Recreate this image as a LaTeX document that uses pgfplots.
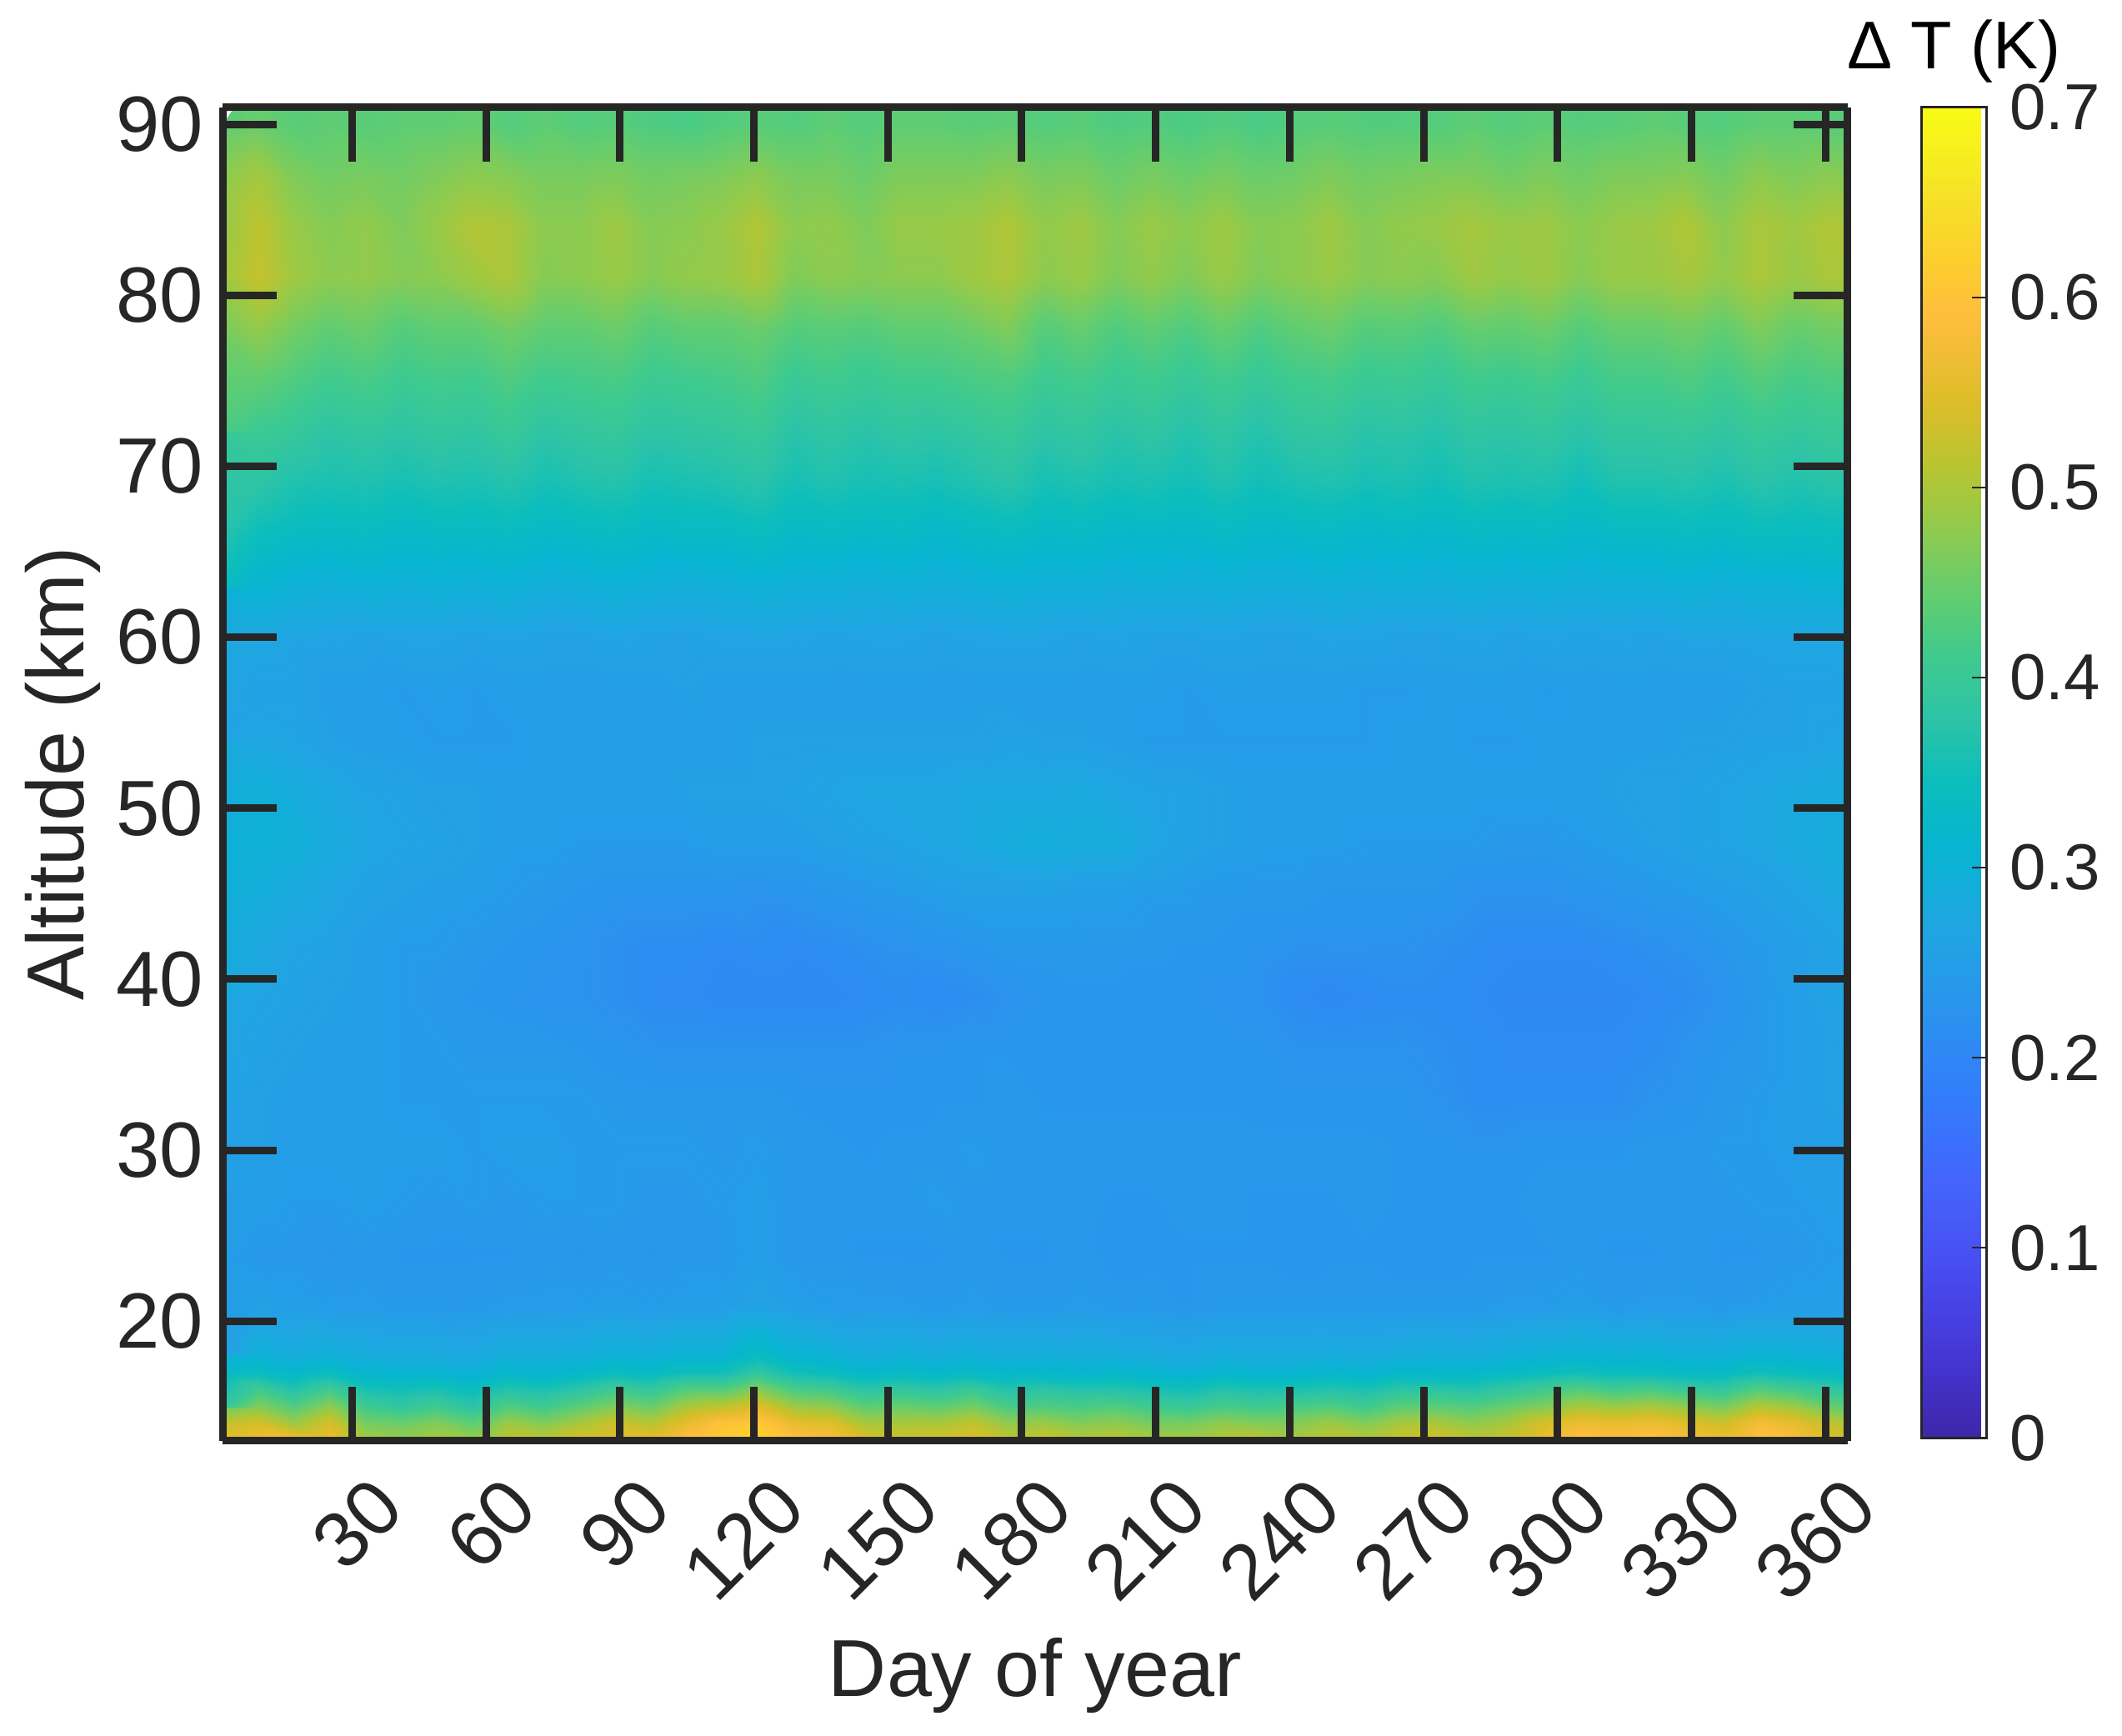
\documentclass[border=0pt]{standalone}
\usepackage{fontspec}
\setmainfont{Liberation Sans}
\usepackage{pgfplots}
\pgfplotsset{compat=1.18}
\definecolor{axgray}{HTML}{262626}
\pgfplotsset{
  /pgf/number format/assume math mode=true,
  colormap={parula}{
    rgb(1pt)=(0.2422,0.1504,0.6603) rgb(5pt)=(0.2706,0.2147,0.8364) rgb(9pt)=(0.2813,0.3006,0.9414)
    rgb(13pt)=(0.2699,0.3892,0.9906) rgb(17pt)=(0.1963,0.4847,0.9892) rgb(21pt)=(0.1687,0.5703,0.9359)
    rgb(25pt)=(0.1248,0.6459,0.8883) rgb(29pt)=(0.0297,0.7082,0.8163) rgb(32pt)=(0.0433,0.7411,0.7394)
    rgb(35pt)=(0.1717,0.7670,0.6554) rgb(38pt)=(0.2470,0.7918,0.5567) rgb(41pt)=(0.3909,0.8029,0.4354)
    rgb(44pt)=(0.5616,0.7942,0.3045) rgb(47pt)=(0.7242,0.7698,0.1910) rgb(50pt)=(0.8634,0.7406,0.1596)
    rgb(54pt)=(0.9956,0.7434,0.2371) rgb(57pt)=(0.9892,0.8135,0.1753) rgb(60pt)=(0.9604,0.8896,0.1537)
    rgb(62pt)=(0.9682,0.9408,0.1136) rgb(64pt)=(0.9769,0.9839,0.0805)
  },
}
\begin{document}
\begin{tikzpicture}
\path[use as bounding box] (0,0) rectangle (509.2pt,416.6pt);
\begin{axis}[
  at={(53.4pt,70.8pt)}, anchor=south west,
  scale only axis, width=390pt, height=320.1pt,
  view={0}{90},
  xmin=1, xmax=365, ymin=13, ymax=91,
  xtick={30,60,...,360}, ytick={20,30,...,90},
  tick align=inside, major tick length=13pt,
  tick style={line width=1.8pt,color=axgray},
  axis line style={line width=1.8pt,color=axgray},
  axis on top,
  every tick label/.append style={text=axgray,font=\fontsize{18.8pt}{20pt}\selectfont},
  x tick label style={rotate=45,anchor=east,xshift=0.7pt,yshift=-15pt},
  y tick label style={xshift=-1.1pt},
  xlabel={Day of year}, ylabel={Altitude (km)},
  label style={text=axgray,font=\fontsize{19.4pt}{22pt}\selectfont},
  xlabel style={at={(axis description cs:0.5,-0.176)},anchor=center},
  ylabel style={at={(axis description cs:-0.0985,0.5)},anchor=center},
  colormap name=parula,
  point meta min=0, point meta max=0.7,
  colorbar,
  colorbar style={
    xshift=-3.5pt, width=15.6pt, height=319.4pt,
    ytick={0,0.1,...,0.7},
    yticklabels={0,0.1,0.2,0.3,0.4,0.5,0.6,0.7},
    ytick pos=right, tick align=inside, major tick length=3.6pt,
    tick style={line width=0.4pt,color=axgray},
    axis line style={line width=0.6pt,color=axgray},
    every tick label/.append style={text=axgray,font=\fontsize{15.6pt}{18pt}\selectfont},
    y tick label style={xshift=2pt},
  },
]
% rows: 13..18 km in 1 km steps, then 21..93 km in 3 km steps; columns: day 1,9,...,369
\addplot3[surf,shader=interp,mesh/cols=47] table[row sep=crcr,z index=0,
  x expr={1+mod(\coordindex,47)*8},
  y expr={13+floor(\coordindex/47)+2*max(floor(\coordindex/47)-5,0)}]{
.56\\.57\\.58\\.57\\.50\\.49\\.50\\.49\\.52\\.52\\
.55\\.55\\.56\\.60\\.62\\.63\\.60\\.59\\.55\\.53\\
.54\\.55\\.52\\.53\\.51\\.52\\.50\\.50\\.51\\.52\\
.50\\.52\\.51\\.53\\.54\\.52\\.53\\.56\\.60\\.59\\
.60\\.58\\.57\\.60\\.59\\.55\\.52\\
.52\\.54\\.49\\.54\\.46\\.45\\.47\\.44\\.49\\.47\\
.50\\.53\\.51\\.56\\.60\\.61\\.56\\.55\\.50\\.50\\
.50\\.52\\.48\\.49\\.47\\.48\\.46\\.46\\.48\\.47\\
.47\\.49\\.47\\.50\\.50\\.48\\.50\\.54\\.57\\.56\\
.57\\.55\\.53\\.58\\.56\\.52\\.49\\
.45\\.47\\.43\\.48\\.41\\.39\\.41\\.38\\.43\\.41\\
.44\\.47\\.45\\.50\\.52\\.55\\.49\\.48\\.44\\.45\\
.44\\.46\\.42\\.43\\.42\\.43\\.41\\.40\\.42\\.41\\
.42\\.43\\.41\\.44\\.44\\.43\\.45\\.47\\.50\\.49\\
.50\\.48\\.46\\.51\\.49\\.45\\.43\\
.39\\.41\\.37\\.41\\.36\\.35\\.36\\.34\\.37\\.36\\
.38\\.41\\.39\\.43\\.43\\.47\\.42\\.41\\.38\\.39\\
.38\\.40\\.37\\.38\\.37\\.37\\.36\\.35\\.37\\.36\\
.36\\.37\\.36\\.38\\.38\\.37\\.39\\.41\\.43\\.41\\
.42\\.40\\.39\\.43\\.41\\.39\\.37\\
.33\\.34\\.32\\.34\\.315\\.31\\.31\\.30\\.32\\.31\\
.32\\.34\\.33\\.35\\.35\\.39\\.35\\.34\\.32\\.33\\
.32\\.33\\.32\\.32\\.315\\.32\\.31\\.30\\.315\\.31\\
.31\\.32\\.31\\.32\\.32\\.32\\.33\\.34\\.35\\.34\\
.34\\.33\\.33\\.35\\.34\\.33\\.32\\
.295\\.30\\.285\\.295\\.285\\.28\\.28\\.275\\.29\\.285\\
.29\\.30\\.295\\.305\\.305\\.335\\.31\\.30\\.285\\.295\\
.285\\.295\\.285\\.29\\.285\\.285\\.28\\.275\\.285\\.28\\
.28\\.285\\.28\\.285\\.29\\.285\\.295\\.30\\.305\\.30\\
.305\\.295\\.295\\.305\\.30\\.295\\.285\\
.255\\.255\\.25\\.245\\.245\\.24\\.24\\.24\\.245\\.245\\
.245\\.25\\.245\\.25\\.25\\.26\\.25\\.245\\.245\\.245\\
.24\\.245\\.24\\.24\\.245\\.24\\.24\\.235\\.24\\.24\\
.24\\.24\\.24\\.24\\.24\\.24\\.245\\.245\\.25\\.24\\
.245\\.245\\.24\\.245\\.25\\.25\\.255\\
.245\\.24\\.24\\.235\\.24\\.235\\.235\\.235\\.235\\.24\\
.235\\.24\\.235\\.24\\.24\\.25\\.24\\.24\\.235\\.235\\
.235\\.24\\.235\\.235\\.24\\.23\\.235\\.235\\.235\\.235\\
.23\\.235\\.235\\.23\\.23\\.235\\.235\\.235\\.24\\.235\\
.235\\.24\\.235\\.235\\.24\\.245\\.245\\
.25\\.25\\.245\\.245\\.25\\.245\\.24\\.245\\.24\\.245\\
.245\\.245\\.24\\.24\\.245\\.25\\.24\\.24\\.24\\.24\\
.245\\.24\\.24\\.24\\.24\\.235\\.235\\.24\\.24\\.235\\
.235\\.235\\.24\\.235\\.235\\.235\\.235\\.24\\.24\\.24\\
.24\\.24\\.24\\.245\\.245\\.25\\.25\\
.255\\.255\\.25\\.25\\.25\\.25\\.25\\.245\\.25\\.25\\
.245\\.245\\.245\\.245\\.24\\.245\\.24\\.24\\.235\\.24\\
.24\\.245\\.24\\.24\\.24\\.24\\.24\\.24\\.24\\.24\\
.24\\.24\\.24\\.235\\.23\\.23\\.23\\.235\\.235\\.235\\
.24\\.24\\.245\\.245\\.25\\.25\\.255\\
.255\\.255\\.25\\.25\\.25\\.245\\.245\\.245\\.245\\.245\\
.245\\.24\\.24\\.24\\.24\\.24\\.235\\.23\\.23\\.23\\
.235\\.235\\.24\\.235\\.235\\.235\\.235\\.235\\.235\\.23\\
.23\\.23\\.23\\.23\\.225\\.215\\.215\\.215\\.215\\.215\\
.225\\.23\\.24\\.245\\.25\\.255\\.26\\
.265\\.26\\.255\\.25\\.25\\.245\\.245\\.24\\.24\\.24\\
.235\\.23\\.225\\.225\\.225\\.225\\.225\\.225\\.225\\.23\\
.23\\.235\\.235\\.235\\.235\\.235\\.235\\.235\\.235\\.23\\
.225\\.225\\.225\\.225\\.22\\.215\\.21\\.21\\.21\\.21\\
.215\\.225\\.235\\.24\\.25\\.255\\.26\\
.27\\.265\\.26\\.255\\.25\\.245\\.24\\.235\\.23\\.225\\
.225\\.22\\.21\\.21\\.205\\.205\\.205\\.205\\.21\\.215\\
.21\\.215\\.225\\.23\\.235\\.235\\.23\\.23\\.225\\.225\\
.21\\.205\\.21\\.215\\.215\\.21\\.205\\.205\\.205\\.205\\
.21\\.215\\.225\\.24\\.25\\.26\\.27\\
.28\\.275\\.265\\.26\\.25\\.245\\.245\\.24\\.235\\.23\\
.225\\.22\\.215\\.215\\.21\\.215\\.21\\.215\\.22\\.225\\
.23\\.235\\.24\\.24\\.24\\.24\\.24\\.235\\.235\\.23\\
.225\\.225\\.225\\.225\\.22\\.215\\.21\\.21\\.21\\.215\\
.22\\.225\\.235\\.245\\.25\\.26\\.275\\
.295\\.29\\.28\\.27\\.26\\.255\\.25\\.25\\.245\\.24\\
.235\\.23\\.23\\.23\\.23\\.225\\.23\\.235\\.24\\.245\\
.25\\.255\\.255\\.255\\.25\\.25\\.245\\.245\\.24\\.24\\
.24\\.235\\.235\\.235\\.235\\.225\\.225\\.225\\.23\\.235\\
.24\\.245\\.25\\.255\\.265\\.275\\.285\\
.30\\.30\\.295\\.28\\.27\\.265\\.26\\.255\\.25\\.25\\
.245\\.245\\.245\\.245\\.25\\.25\\.25\\.255\\.26\\.265\\
.27\\.275\\.285\\.29\\.285\\.285\\.27\\.26\\.255\\.25\\
.25\\.25\\.245\\.245\\.245\\.245\\.24\\.24\\.245\\.25\\
.255\\.26\\.265\\.27\\.28\\.285\\.295\\
.295\\.295\\.285\\.275\\.265\\.26\\.255\\.255\\.25\\.25\\
.25\\.25\\.25\\.255\\.255\\.255\\.26\\.265\\.27\\.27\\
.27\\.275\\.275\\.275\\.28\\.27\\.265\\.26\\.255\\.25\\
.25\\.25\\.25\\.25\\.25\\.25\\.25\\.25\\.25\\.255\\
.26\\.26\\.265\\.27\\.275\\.28\\.29\\
.275\\.27\\.265\\.255\\.25\\.25\\.245\\.245\\.245\\.25\\
.25\\.25\\.25\\.25\\.25\\.255\\.255\\.255\\.255\\.255\\
.255\\.255\\.26\\.255\\.255\\.25\\.245\\.245\\.245\\.245\\
.245\\.245\\.245\\.25\\.25\\.245\\.245\\.25\\.25\\.25\\
.25\\.255\\.255\\.26\\.26\\.265\\.27\\
.265\\.26\\.26\\.25\\.25\\.245\\.25\\.245\\.25\\.25\\
.25\\.25\\.25\\.255\\.25\\.25\\.25\\.25\\.25\\.25\\
.25\\.25\\.25\\.25\\.25\\.25\\.25\\.245\\.25\\.25\\
.25\\.25\\.245\\.245\\.25\\.25\\.25\\.245\\.25\\.25\\
.25\\.25\\.25\\.255\\.26\\.26\\.265\\
.275\\.27\\.265\\.265\\.26\\.265\\.265\\.26\\.265\\.26\\
.26\\.265\\.26\\.26\\.265\\.265\\.265\\.26\\.265\\.265\\
.26\\.265\\.265\\.265\\.26\\.265\\.26\\.26\\.265\\.26\\
.26\\.265\\.265\\.26\\.26\\.265\\.26\\.265\\.26\\.265\\
.26\\.265\\.265\\.27\\.27\\.27\\.275\\
.305\\.31\\.30\\.295\\.30\\.295\\.30\\.295\\.30\\.29\\
.295\\.30\\.295\\.29\\.295\\.30\\.295\\.295\\.29\\.295\\
.29\\.295\\.30\\.295\\.295\\.29\\.295\\.29\\.295\\.29\\
.29\\.295\\.29\\.295\\.29\\.295\\.29\\.295\\.29\\.295\\
.295\\.30\\.295\\.30\\.30\\.305\\.30\\
.34\\.345\\.335\\.33\\.335\\.325\\.33\\.33\\.335\\.325\\
.33\\.335\\.325\\.33\\.33\\.34\\.325\\.33\\.325\\.33\\
.32\\.33\\.335\\.325\\.33\\.32\\.325\\.32\\.33\\.32\\
.325\\.33\\.32\\.325\\.32\\.33\\.325\\.33\\.32\\.33\\
.33\\.335\\.33\\.34\\.335\\.34\\.335\\
.37\\.38\\.365\\.36\\.365\\.355\\.365\\.36\\.37\\.355\\
.365\\.37\\.355\\.36\\.365\\.375\\.355\\.365\\.355\\.36\\
.355\\.365\\.375\\.355\\.365\\.355\\.36\\.35\\.365\\.35\\
.36\\.365\\.355\\.36\\.35\\.365\\.36\\.365\\.35\\.365\\
.365\\.37\\.36\\.375\\.365\\.375\\.365\\
.395\\.405\\.395\\.38\\.39\\.38\\.39\\.385\\.40\\.38\\
.39\\.395\\.38\\.385\\.39\\.40\\.375\\.385\\.375\\.385\\
.38\\.39\\.40\\.38\\.39\\.375\\.385\\.37\\.385\\.37\\
.385\\.39\\.375\\.38\\.37\\.385\\.38\\.39\\.375\\.39\\
.39\\.395\\.385\\.40\\.39\\.40\\.39\\
.42\\.44\\.425\\.41\\.42\\.405\\.415\\.41\\.425\\.41\\
.415\\.42\\.405\\.41\\.415\\.425\\.40\\.41\\.40\\.41\\
.41\\.42\\.425\\.405\\.415\\.40\\.41\\.395\\.41\\.395\\
.41\\.415\\.40\\.405\\.395\\.41\\.405\\.415\\.40\\.415\\
.415\\.425\\.41\\.43\\.415\\.425\\.42\\
.46\\.48\\.455\\.44\\.45\\.43\\.44\\.44\\.455\\.44\\
.44\\.45\\.43\\.44\\.44\\.45\\.43\\.435\\.43\\.44\\
.44\\.45\\.465\\.43\\.445\\.425\\.44\\.425\\.445\\.425\\
.44\\.45\\.43\\.435\\.425\\.445\\.44\\.45\\.43\\.445\\
.445\\.455\\.44\\.465\\.445\\.455\\.45\\
.49\\.52\\.49\\.475\\.48\\.47\\.475\\.49\\.50\\.47\\
.475\\.485\\.47\\.48\\.485\\.50\\.465\\.475\\.47\\.475\\
.475\\.49\\.50\\.475\\.485\\.465\\.48\\.465\\.485\\.465\\
.475\\.485\\.47\\.475\\.47\\.49\\.48\\.49\\.47\\.485\\
.485\\.495\\.48\\.50\\.485\\.50\\.49\\
.49\\.515\\.485\\.47\\.48\\.465\\.485\\.505\\.50\\.475\\
.475\\.49\\.47\\.475\\.485\\.505\\.475\\.48\\.465\\.485\\
.485\\.49\\.505\\.48\\.49\\.47\\.485\\.475\\.49\\.47\\
.475\\.49\\.47\\.48\\.485\\.495\\.485\\.49\\.475\\.485\\
.49\\.505\\.475\\.50\\.49\\.505\\.49\\
.475\\.495\\.465\\.455\\.46\\.455\\.465\\.475\\.47\\.46\\
.46\\.465\\.455\\.46\\.465\\.475\\.46\\.46\\.45\\.465\\
.465\\.465\\.475\\.46\\.465\\.45\\.46\\.45\\.46\\.45\\
.455\\.465\\.455\\.46\\.465\\.465\\.455\\.465\\.455\\.465\\
.465\\.47\\.455\\.475\\.465\\.475\\.465\\
.44\\.45\\.435\\.44\\.435\\.44\\.44\\.445\\.43\\.44\\
.43\\.435\\.425\\.42\\.43\\.435\\.43\\.44\\.43\\.44\\
.44\\.435\\.44\\.43\\.435\\.425\\.43\\.42\\.43\\.42\\
.43\\.435\\.43\\.43\\.43\\.44\\.43\\.44\\.43\\.435\\
.44\\.435\\.43\\.44\\.44\\.435\\.44\\
.435\\.44\\.43\\.435\\.43\\.435\\.435\\.44\\.43\\.435\\
.43\\.43\\.42\\.42\\.425\\.43\\.425\\.435\\.43\\.435\\
.435\\.43\\.435\\.43\\.43\\.42\\.43\\.42\\.43\\.42\\
.43\\.43\\.425\\.43\\.43\\.435\\.43\\.435\\.425\\.43\\
.435\\.43\\.43\\.435\\.435\\.43\\.44\\
};
\end{axis}
\node[anchor=base,text=black,font=\fontsize{16.2pt}{18pt}\selectfont] at (468.9pt,400pt) {Δ T (K)};
\end{tikzpicture}
\end{document}
